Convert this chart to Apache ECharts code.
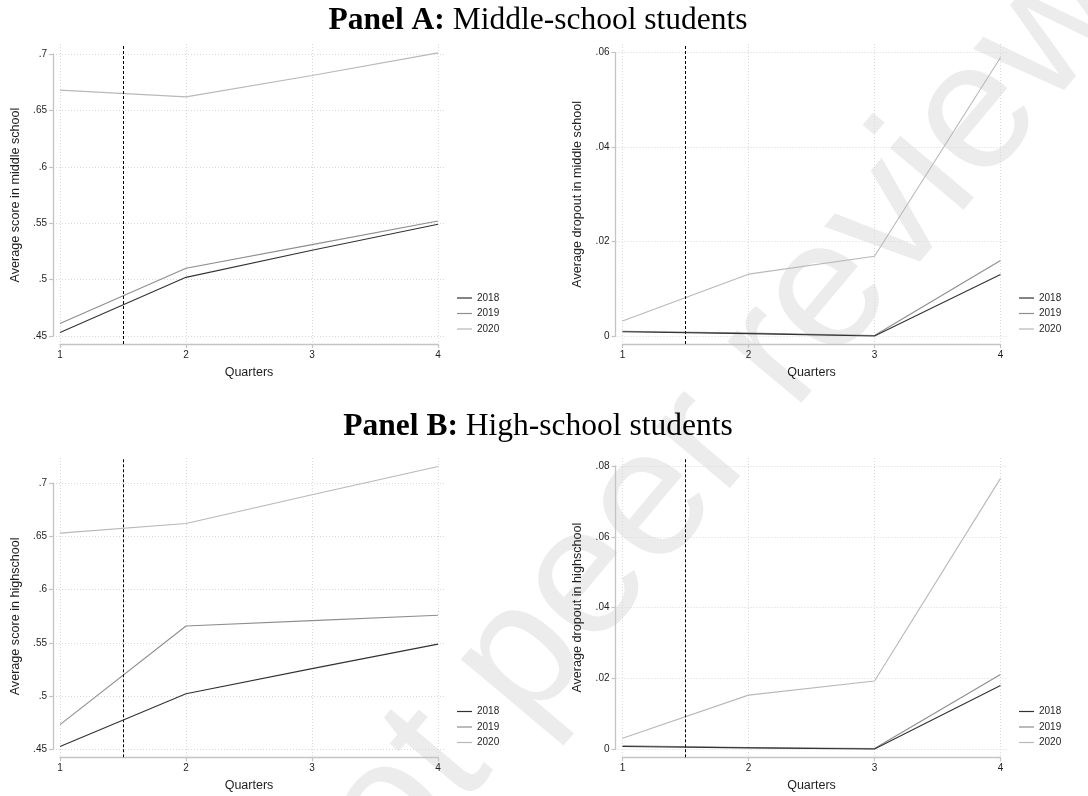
<!DOCTYPE html>
<html>
<head>
<meta charset="utf-8">
<title>Scores and dropout by quarter</title>
<script src="https://cdn.jsdelivr.net/npm/echarts@6/dist/echarts.min.js"></script>
<style>
  html, body { margin: 0; padding: 0; background: #ffffff; }
  #chart { width: 1088px; height: 796px; }
</style>
</head>
<body>
<div id="chart"></div>
<script>
// ---- data ----
const quarters = [1, 2, 3, 4];
const years = ['2018', '2019', '2020'];
const cutoffQuarter = [1.5];

const scoreMiddle2018 = [0.453, 0.502, 0.526, 0.549];
const scoreMiddle2019 = [0.461, 0.510, 0.531, 0.552];
const scoreMiddle2020 = [0.668, 0.662, 0.681, 0.701];

const dropMiddle2018 = [0.0009, 0.0005, 0.0000, 0.0130];
const dropMiddle2019 = [0.0010, 0.0006, 0.0001, 0.0160];
const dropMiddle2020 = [0.0032, 0.0131, 0.0169, 0.0590];

const scoreHigh2018 = [0.453, 0.5025, 0.526, 0.549];
const scoreHigh2019 = [0.4735, 0.566, 0.571, 0.576];
const scoreHigh2020 = [0.653, 0.662, 0.689, 0.7155];

const dropHigh2018 = [0.0008, 0.0004, 0.0001, 0.0180];
const dropHigh2019 = [0.0010, 0.0005, 0.0002, 0.0211];
const dropHigh2020 = [0.0031, 0.0153, 0.0193, 0.0765];

const quarterTicks = [1, 2, 3, 4];
const scoreTicks = [0.45, 0.5, 0.55, 0.6, 0.65, 0.7];
const dropTicksMiddle = [0, 0.02, 0.04, 0.06];
const dropTicksHigh = [0, 0.02, 0.04, 0.06, 0.08];

const panelTitles = [
  ['Panel A:', ' Middle-school students'],
  ['Panel B:', ' High-school students']
];
const yNames = [
  'Average score in middle school',
  'Average dropout in middle school',
  'Average score in highschool',
  'Average dropout in highschool'
];
const xName = 'Quarters';
const watermarkText = 'Preprint not peer reviewed';

// ---- styles ----
const SANS = '"Liberation Sans", Arial, Helvetica, sans-serif';
const SERIF = '"Liberation Serif", "Times New Roman", serif';
const yearColors = ['#323232', '#8e8e8e', '#b8b8b8'];
const axisGray = '#c4c4c4';
const gridGray = '#d9d9d9';
const textColor = '#1e1e1e';

// stata-like labels: drop the leading zero
function tickFmt(v) {
  const s = String(+(+v).toFixed(4));
  return s.replace(/^0\./, '.').replace(/^-0\./, '-.');
}

// layout of each panel: inner box = tick range, outer box = plot region
const panels = [
  { inner: { left: 60, top: 54, width: 378, height: 282 },
    outer: { left: 53, top: 44, right: 445, bottom: 344 },
    yTicks: scoreTicks, yName: yNames[0],
    series: [scoreMiddle2018, scoreMiddle2019, scoreMiddle2020],
    legend: { left: 457, top: 292 } },
  { inner: { left: 622.5, top: 52.7, width: 378, height: 283.3 },
    outer: { left: 615.5, top: 44, right: 1007.5, bottom: 344 },
    yTicks: dropTicksMiddle, yName: yNames[1],
    series: [dropMiddle2018, dropMiddle2019, dropMiddle2020],
    legend: { left: 1019, top: 292 } },
  { inner: { left: 60, top: 483, width: 378, height: 266.7 },
    outer: { left: 53, top: 458, right: 445, bottom: 757.3 },
    yTicks: scoreTicks, yName: yNames[2],
    series: [scoreHigh2018, scoreHigh2019, scoreHigh2020],
    legend: { left: 457, top: 705.5 } },
  { inner: { left: 622.5, top: 466, width: 378, height: 283.3 },
    outer: { left: 615.5, top: 458, right: 1007.5, bottom: 757.3 },
    yTicks: dropTicksHigh, yName: yNames[3],
    series: [dropHigh2018, dropHigh2019, dropHigh2020],
    legend: { left: 1019, top: 705.5 } }
];

const option = {
  backgroundColor: '#ffffff',
  animation: false,
  grid: [], xAxis: [], yAxis: [], series: [], legend: [],
  graphic: []
};

panels.forEach(function (p, i) {
  const inn = p.inner, out = p.outer;
  const innRight = inn.left + inn.width, innBottom = inn.top + inn.height;
  const xMin = quarterTicks[0], xMax = quarterTicks[quarterTicks.length - 1];
  const yMin = p.yTicks[0], yMax = p.yTicks[p.yTicks.length - 1];
  const xs = (xMax - xMin) / inn.width;
  const ys = (yMax - yMin) / inn.height;

  const gOuter = option.grid.length;
  option.grid.push({
    left: out.left, top: out.top, width: out.right - out.left, height: out.bottom - out.top,
    containLabel: false, outerBoundsMode: 'none'
  });
  const gInner = option.grid.length;
  option.grid.push({
    left: inn.left, top: inn.top, width: inn.width, height: inn.height,
    containLabel: false, outerBoundsMode: 'none'
  });

  // outer axes: plot region with dotted grid lines only
  const xOuter = option.xAxis.length;
  option.xAxis.push({
    type: 'value', gridIndex: gOuter,
    min: xMin - (inn.left - out.left) * xs,
    max: xMax + (out.right - innRight) * xs,
    axisLine: { show: false },
    axisTick: { show: false, customValues: quarterTicks },
    axisLabel: { show: false, customValues: quarterTicks },
    splitLine: { show: true, lineStyle: { color: gridGray, type: [1, 2], width: 1 } }
  });
  const yOuter = option.yAxis.length;
  option.yAxis.push({
    type: 'value', gridIndex: gOuter,
    min: yMin - (out.bottom - innBottom) * ys,
    max: yMax + (inn.top - out.top) * ys,
    axisLine: { show: false },
    axisTick: { show: false, customValues: p.yTicks },
    axisLabel: { show: false, customValues: p.yTicks },
    splitLine: { show: true, lineStyle: { color: gridGray, type: [1, 2], width: 1 } }
  });

  // inner axes: axis lines, ticks, labels and titles over the tick range
  option.xAxis.push({
    type: 'value', gridIndex: gInner, min: xMin, max: xMax,
    offset: out.bottom - innBottom,
    name: xName, nameLocation: 'middle', nameGap: 22,
    nameTextStyle: { fontFamily: SANS, fontSize: 12.5, color: textColor },
    axisLine: { show: true, onZero: false, lineStyle: { color: axisGray, width: 1.3 } },
    axisTick: { show: true, length: 4, customValues: quarterTicks, lineStyle: { color: axisGray, width: 1.2 } },
    axisLabel: { show: true, customValues: quarterTicks, margin: 6, fontFamily: SANS, fontSize: 10, color: textColor, formatter: tickFmt },
    splitLine: { show: false }
  });
  option.yAxis.push({
    type: 'value', gridIndex: gInner, min: yMin, max: yMax,
    offset: inn.left - out.left,
    name: p.yName, nameLocation: 'middle', nameGap: 31, nameRotate: 90,
    nameTextStyle: { fontFamily: SANS, fontSize: 12.6, color: textColor },
    axisLine: { show: true, onZero: false, lineStyle: { color: axisGray, width: 1.3 } },
    axisTick: { show: true, length: 4, customValues: p.yTicks, lineStyle: { color: axisGray, width: 1.2 } },
    axisLabel: { show: true, customValues: p.yTicks, margin: 6, fontFamily: SANS, fontSize: 10, color: textColor, formatter: tickFmt },
    splitLine: { show: false }
  });

  p.series.forEach(function (vals, k) {
    const s = {
      type: 'line', name: years[k],
      xAxisIndex: xOuter, yAxisIndex: yOuter,
      data: quarters.map(function (q, j) { return [q, vals[j]]; }),
      symbol: 'none', showSymbol: false, clip: false,
      itemStyle: { color: yearColors[k] },
      lineStyle: { color: yearColors[k], width: 1.1 },
      z: 3 + (2 - k)
    };
    if (k === 0) {
      s.markLine = {
        silent: true, symbol: 'none', label: { show: false },
        lineStyle: { color: '#000000', type: [3, 2], width: 1 },
        data: cutoffQuarter.map(function (c) { return { xAxis: c }; })
      };
    }
    option.series.push(s);
  });

  option.legend.push({
    orient: 'vertical', left: p.legend.left, top: p.legend.top,
    padding: 0, itemGap: 3.5, itemWidth: 15, itemHeight: 1.2,
    icon: 'rect', selectedMode: false,
    textStyle: { fontFamily: SANS, fontSize: 10, color: textColor, lineHeight: 12 },
    data: years
  });
});

// panel headings
[20.5, 427].forEach(function (y, i) {
  option.graphic.push({
    type: 'text', x: 538, y: y, z: 10,
    style: {
      text: '{b|' + panelTitles[i][0] + '}{r|' + panelTitles[i][1] + '}',
      align: 'center', verticalAlign: 'middle', fill: '#000000',
      rich: {
        b: { fontFamily: SERIF, fontSize: 31.5, fontWeight: 'bold', fill: '#000000' },
        r: { fontFamily: SERIF, fontSize: 31.5, fontWeight: 'normal', fill: '#000000' }
      }
    }
  });
});

// diagonal stamp behind the plots
option.graphic.push({
  type: 'text', x: 537, y: 640, z: -10, zlevel: 0,
  rotation: 50 * Math.PI / 180,
  silent: true,
  style: {
    text: watermarkText, align: 'center', verticalAlign: 'middle',
    fontFamily: SANS, fontSize: 182, fill: '#ececec'
  }
});

const chart = echarts.init(document.getElementById('chart'), null, { renderer: 'canvas' });
chart.setOption(option);
</script>
</body>
</html>
